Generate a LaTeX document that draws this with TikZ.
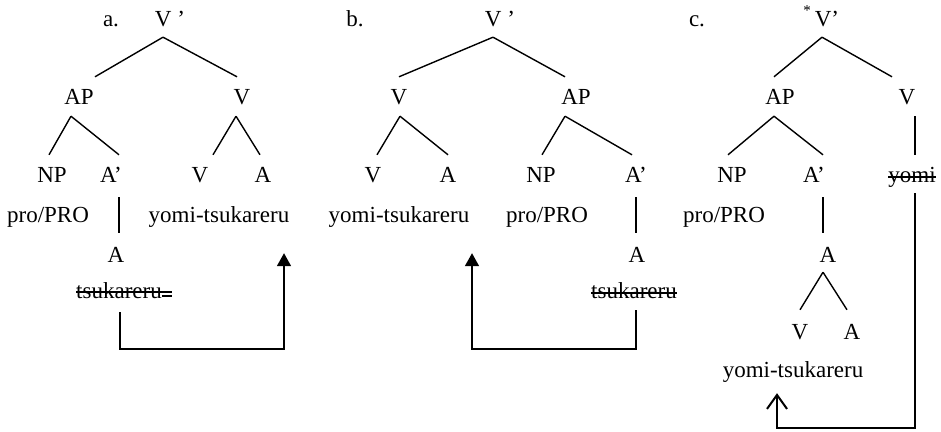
\documentclass[tikz,border=0pt]{standalone}
\usepackage{fontspec}
\setmainfont{Liberation Serif}
\usetikzlibrary{calc,arrows.meta}
\begin{document}
\begin{tikzpicture}[x=1pt,y=-1pt,
  lbl/.style={font=\fontsize{23}{27}\selectfont, inner sep=0pt,
              text height=16pt, text depth=5pt, anchor=base},
  branch/.style={line width=1.4pt},
  move/.style={line width=1.6pt},
  strike/.style={line width=1.4pt}]
\useasboundingbox (0,0) rectangle (941,431);

% ---------------- tree a ----------------
\node[lbl] (aLab)   at (111,27)  {a.};
\node[lbl] (aTop)   at (170,27)  {V ’};
\node[lbl] (aAP)    at (79,104)  {AP};
\node[lbl] (aV)     at (242,104) {V};
\node[lbl] (aNP)    at (52,182)  {NP};
\node[lbl] (aAbar)  at (111,182) {A’};
\node[lbl] (aVv)    at (200,182) {V};
\node[lbl] (aVa)    at (263,182) {A};
\node[lbl] (aPro)   at (48,222)  {pro/PRO};
\node[lbl] (aWord)  at (219,222) {yomi-tsukareru};
\node[lbl] (aA)     at (116,262) {A};
\node[lbl] (aTrace) at (119,298) {tsukareru};

\draw[branch] ($(aTop.south)+(-7,5)$) -- ($(aAP.north)+(16,-11)$);
\draw[branch] ($(aTop.south)+(-7,5)$) -- ($(aV.north)+(-5,-11)$);
\draw[branch] ($(aAP.south)+(-8,7)$) -- ($(aNP.north)+(-3,-11)$);
\draw[branch] ($(aAP.south)+(-8,7)$) -- ($(aAbar.north)+(8,-11)$);
\draw[branch] ($(aV.south)+(-6,7)$) -- ($(aVv.north)+(13,-11)$);
\draw[branch] ($(aV.south)+(-6,7)$) -- ($(aVa.north)+(-3,-11)$);
\draw[branch] ($(aAbar.south)+(8,10)$) -- ($(aA.north)+(3,-13)$);

\draw[strike] ($(aTrace.base west)+(0,-6)$) -- ($(aTrace.base east)+(10,-6)$);
\draw[strike] ($(aTrace.base east)+(0,-2)$) -- ++(10,0);

\draw[move,-{Triangle[length=13pt,width=14pt]}]
  ($(aTrace.south)+(1,9)$) |- ($(aWord.south)+(65,122)$) -- ($(aWord.south)+(65,26)$);

% ---------------- tree b ----------------
\node[lbl] (bLab)   at (355,27)  {b.};
\node[lbl] (bTop)   at (500,27)  {V ’};
\node[lbl] (bV)     at (399,104) {V};
\node[lbl] (bAP)    at (576,104) {AP};
\node[lbl] (bVv)    at (373,182) {V};
\node[lbl] (bVa)    at (448,182) {A};
\node[lbl] (bNP)    at (541,182) {NP};
\node[lbl] (bAbar)  at (636,182) {A’};
\node[lbl] (bWord)  at (399,222) {yomi-tsukareru};
\node[lbl] (bPro)   at (547,222) {pro/PRO};
\node[lbl] (bA)     at (637,262) {A};
\node[lbl] (bTrace) at (634,298) {tsukareru};

\draw[branch] ($(bTop.south)+(-7,5)$) -- ($(bV.north)+(0,-11)$);
\draw[branch] ($(bTop.south)+(-7,5)$) -- ($(bAP.north)+(-11,-11)$);
\draw[branch] ($(bV.south)+(1,7)$) -- ($(bVv.north)+(4,-11)$);
\draw[branch] ($(bV.south)+(1,7)$) -- ($(bVa.north)+(0,-11)$);
\draw[branch] ($(bAP.south)+(-11,7)$) -- ($(bNP.north)+(1,-11)$);
\draw[branch] ($(bAP.south)+(-11,7)$) -- ($(bAbar.north)+(-4,-11)$);
\draw[branch] ($(bAbar.south)+(0,10)$) -- ($(bA.north)+(-1,-13)$);

\draw[strike] ($(bTrace.base west)+(0,-5)$) -- ($(bTrace.base east)+(0,-5)$);

\draw[move,-{Triangle[length=13pt,width=14pt]}]
  ($(bTrace.south)+(2,7)$) |- ($(bWord.south)+(73,122)$) -- ($(bWord.south)+(73,26)$);

% ---------------- tree c ----------------
\node[lbl] (cLab)   at (697,27)  {c.};
\node[lbl] (cTop)   at (827,27)  {V’};
\node[font=\fontsize{15}{17}\selectfont, inner sep=0pt, anchor=base] (cStar) at (807,16) {*};
\node[lbl] (cAP)    at (780,104) {AP};
\node[lbl] (cV)     at (907,104) {V};
\node[lbl] (cNP)    at (732,182) {NP};
\node[lbl] (cAbar)  at (814,182) {A’};
\node[lbl] (cTrace) at (912,182) {yomi};
\node[lbl] (cPro)   at (724,222) {pro/PRO};
\node[lbl] (cA)     at (828,262) {A};
\node[lbl] (cVv)    at (800,339) {V};
\node[lbl] (cVa)    at (852,339) {A};
\node[lbl] (cWord)  at (793,377) {yomi-tsukareru};

\draw[branch] ($(cTop.south)+(-5,5)$) -- ($(cAP.north)+(-6,-11)$);
\draw[branch] ($(cTop.south)+(-5,5)$) -- ($(cV.north)+(-15,-11)$);
\draw[branch] ($(cAP.south)+(-6,7)$) -- ($(cNP.north)+(-4,-11)$);
\draw[branch] ($(cAP.south)+(-6,7)$) -- ($(cAbar.north)+(9,-11)$);
\draw[branch] ($(cV.south)+(8,7)$) -- ($(cTrace.north)+(3,-11)$);
\draw[branch] ($(cAbar.south)+(9,10)$) -- ($(cA.north)+(-5,-13)$);
\draw[branch] ($(cA.south)+(-5,5)$) -- ($(cVv.north)+(0,-13)$);
\draw[branch] ($(cA.south)+(-5,5)$) -- ($(cVa.north)+(-5,-13)$);

\draw[strike] ($(cTrace.base west)+(0,-5)$) -- ($(cTrace.base east)+(0,-5)$);

\draw[move,line width=2pt,-{Straight Barb[length=14pt,width=20pt]}]
  ($(cTrace.south)+(3,6)$) |- ($(cWord.south)+(-16,46)$) -- ($(cWord.south)+(-16,11)$);
\end{tikzpicture}
\end{document}
